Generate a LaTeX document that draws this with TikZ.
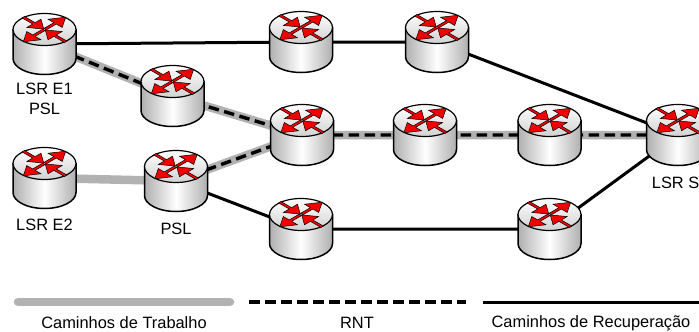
\documentclass[tikz,border=0pt]{standalone}
\usepackage{fontspec}
\setmainfont{Liberation Sans}
\usepackage{tikz}
\usetikzlibrary{arrows.meta, positioning, calc}

\definecolor{routerred}{RGB}{240,0,0}
\definecolor{pathgray}{RGB}{178,178,178}
\definecolor{sidegray}{RGB}{175,175,175}

\tikzset{
    spot/.style = {inner sep=0pt, minimum width=64pt, minimum height=62pt},
    routername/.style = {font=\fontsize{16.4}{16.4}\selectfont, inner sep=0pt},
    working/.style = {pathgray, line width=8.5pt},
    protect/.style = {black, line width=3.4pt, dash pattern=on 10.5pt off 5.5pt},
    recovery/.style = {black, line width=3pt},
    redarrow/.style = {fill=routerred, draw=black, line width=0.5pt, line join=miter},
    router/.pic = {
        \path[left color=sidegray, right color=sidegray, middle color=white, draw=black, line width=1.5pt]
            (-31.5,-14.5) -- (-31.5,14.5) arc[start angle=180, end angle=360, x radius=31.5pt, y radius=16pt]
            -- (31.5,-14.5) -- cycle;
        \path[top color=white, bottom color=white!82!black, draw=black, line width=1.2pt]
            (0,-14.5) ellipse[x radius=31.5pt, y radius=16pt];
        \begin{scope}[shift={(0,-14.5)}, yscale=0.58]
            \foreach \r in {45,225}
                \path[redarrow, rotate=\r] (1,-1.7) -- (15,-1.7) -- (15,-10) -- (30,0) -- (15,10) -- (15,1.7) -- (1,1.7) -- cycle;
            \foreach \r in {135,315}
                \path[redarrow, rotate=\r] (30,-1.7) -- (15,-1.7) -- (15,-10) -- (1,0) -- (15,10) -- (15,1.7) -- (30,1.7) -- cycle;
        \end{scope}
    }
}

\begin{document}
\begin{tikzpicture}[x=1pt, y=-1pt]
    \useasboundingbox (0,0) rectangle (699,332);

    \node[spot] (e1) at (44.5,44) {};
    \node[spot] (psl1) at (172.5,96) {};
    \node[spot] (e2) at (44.5,178) {};
    \node[spot] (psl2) at (176,181) {};
    \node[spot] (t1) at (301,42) {};
    \node[spot] (t2) at (437,42) {};
    \node[spot] (m1) at (302,135) {};
    \node[spot] (m2) at (425,135) {};
    \node[spot] (m3) at (549.5,135) {};
    \node[spot] (s) at (678,135) {};
    \node[spot] (b1) at (301,229) {};
    \node[spot] (b2) at (549.5,229) {};

    \node[routername] (le1) at (44.5,89) {LSR E1};
    \node[routername] (lpsl1) at (44.5,109) {PSL};
    \node[routername] (le2) at (44.5,225) {LSR E2};
    \node[routername] (lpsl2) at (176,229) {PSL};
    \node[routername] (ls) at (675.6,183) {LSR S};

    % caminhos
    \draw[working] (e2.center) -- (psl2.center);
    \draw[working] (e1.center) -- (psl1.center) -- (m1.center) -- (m2.center) -- (m3.center) -- (s.center);
    \draw[working] (psl2.center) -- (m1.center);
    \draw[protect] (e1.center) -- (psl1.center) -- (m1.center) -- (m2.center) -- (m3.center) -- (s.center);
    \draw[protect] (psl2.center) -- (m1.center);
    \draw[recovery] (e1.center) -- (t1.center) -- (t2.center) -- (s.center);
    \draw[recovery] (psl2.center) -- (b1.center) -- (b2.center) -- (s.center);

    \foreach \n in {e1, psl1, e2, psl2, t1, t2, m1, m2, m3, s, b1, b2}
        \pic at (\n) {router};

    % legenda
    \coordinate (w1) at (18,302);
    \coordinate (w2) at (230,302);
    \coordinate (n1) at (249,302);
    \coordinate (n2) at (466,302);
    \coordinate (r1) at (483,302);
    \coordinate (r2) at (699,302);
    \draw[working, line cap=round] (w1) -- (w2);
    \draw[protect] (n1) -- (n2);
    \draw[recovery] (r1) -- (r2);
    \node[routername] (lw) at (124,323) {Caminhos de Trabalho};
    \node[routername] (ln) at (357,323) {RNT};
    \node[routername] (lr) at (591,323) {Caminhos de Recuperação};
\end{tikzpicture}
\end{document}
